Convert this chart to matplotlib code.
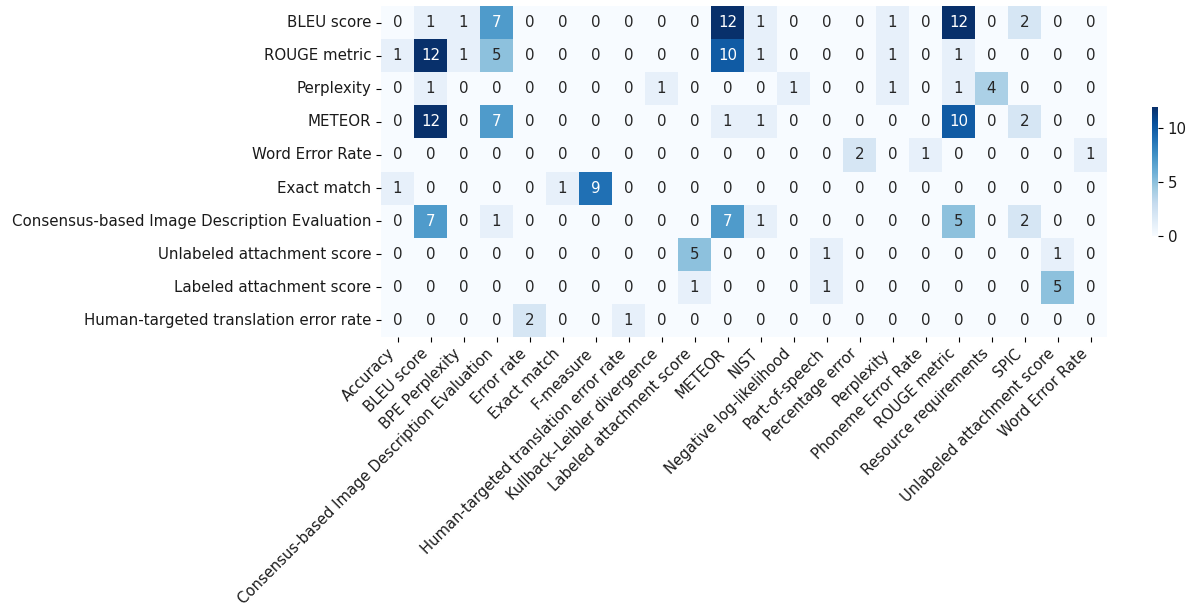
import numpy as np
import pandas as pd
import matplotlib
matplotlib.use("Agg")
import matplotlib.pyplot as plt
import seaborn as sns

# DADOS

linhas = [
    "BLEU score",
    "ROUGE metric",
    "Perplexity",
    "METEOR",
    "Word Error Rate",
    "Exact match",
    "Consensus-based Image Description Evaluation",
    "Unlabeled attachment score",
    "Labeled attachment score",
    "Human-targeted translation error rate",
]

colunas = [
    "Accuracy", "BLEU score", "BPE Perplexity",
    "Consensus-based Image Description Evaluation", "Error rate",
    "Exact match", "F-measure", "Human-targeted translation error rate",
    "Kullback–Leibler divergence", "Labeled attachment score", "METEOR",
    "NIST", "Negative log-likelihood", "Part-of-speech", "Percentage error",
    "Perplexity", "Phoneme Error Rate", "ROUGE metric",
    "Resource requirements", "SPIC", "Unlabeled attachment score",
    "Word Error Rate",
]

bleu = [0, 1, 1, 7, 0, 0, 0, 0, 0, 0, 12, 1, 0, 0, 0, 1, 0, 12, 0, 2, 0, 0]
rouge = [1, 12, 1, 5, 0, 0, 0, 0, 0, 0, 10, 1, 0, 0, 0, 1, 0, 1, 0, 0, 0, 0]
perplexity = [0, 1, 0, 0, 0, 0, 0, 0, 1, 0, 0, 0, 1, 0, 0, 1, 0, 1, 4, 0, 0, 0]
meteor = [0, 12, 0, 7, 0, 0, 0, 0, 0, 0, 1, 1, 0, 0, 0, 0, 0, 10, 0, 2, 0, 0]
wer = [0, 0, 0, 0, 0, 0, 0, 0, 0, 0, 0, 0, 0, 0, 2, 0, 1, 0, 0, 0, 0, 1]
exact = [1, 0, 0, 0, 0, 1, 9, 0, 0, 0, 0, 0, 0, 0, 0, 0, 0, 0, 0, 0, 0, 0]
cider = [0, 7, 0, 1, 0, 0, 0, 0, 0, 0, 7, 1, 0, 0, 0, 0, 0, 5, 0, 2, 0, 0]
uas = [0, 0, 0, 0, 0, 0, 0, 0, 0, 5, 0, 0, 0, 1, 0, 0, 0, 0, 0, 0, 1, 0]
las = [0, 0, 0, 0, 0, 0, 0, 0, 0, 1, 0, 0, 0, 1, 0, 0, 0, 0, 0, 0, 5, 0]
hter = [0, 0, 0, 0, 2, 0, 0, 1, 0, 0, 0, 0, 0, 0, 0, 0, 0, 0, 0, 0, 0, 0]

df = pd.DataFrame(
    [bleu, rouge, perplexity, meteor, wer, exact, cider, uas, las, hter],
    index=linhas,
    columns=colunas,
)

# GRÁFICO

W, H = 1196, 608
fig = plt.figure(figsize=(W / 100, H / 100), dpi=100)

ax = fig.add_axes([381 / W, 1 - 337 / H, (1107 - 381) / W, (337 - 6) / H])
cax = fig.add_axes([1152 / W, 1 - 236 / H, 6 / W, (236 - 107) / H])

fs = 10.8

sns.heatmap(
    df,
    ax=ax,
    cbar_ax=cax,
    cmap="Blues",
    annot=True,
    fmt="d",
    annot_kws={"fontsize": fs},
)

ax.set_xticklabels(colunas, rotation=45, ha="right", fontsize=10.6, color="#1a1a1a")
ax.set_yticklabels(linhas, rotation=0, fontsize=fs, color="#1a1a1a")
ax.tick_params(axis="both", length=3.5)
ax.tick_params(axis="x", pad=3)

cax.set_yticks([0, 5, 10])
cax.tick_params(labelsize=fs, length=3.5, labelcolor="#1a1a1a")
for s in cax.spines.values():
    s.set_visible(False)

fig.savefig("out.png", dpi=100)
